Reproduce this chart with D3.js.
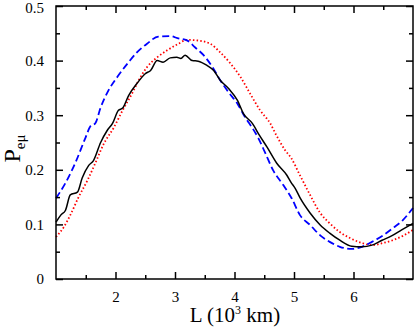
<!DOCTYPE html>
<html>
<head>
<meta charset="utf-8">
<script src="https://cdn.jsdelivr.net/npm/d3@7"></script>
<style>
  body { margin: 0; background: #fff; }
  text { font-family: "Liberation Serif", "DejaVu Serif", serif; fill: #000; }
</style>
</head>
<body>
<div id="chart"></div>
<script>
// curves (L in 10^3 km, P_e-mu)
var blueL = [1.0,1.16,1.33,1.5,1.58,1.66,1.75,1.88,2.03,2.22,2.36,2.53,2.72,2.92,3.04,3.2,3.34,3.48,3.63,3.76,3.9,4.05,4.18,4.31,4.4,4.52,4.65,4.82,4.96,5.1,5.27,5.44,5.6,5.77,5.97,6.14,6.31,6.5,6.66,6.83,7.0];
var blueP = [0.148,0.176,0.214,0.26,0.28,0.285,0.314,0.345,0.37,0.397,0.415,0.431,0.444,0.445,0.441,0.437,0.424,0.41,0.388,0.364,0.342,0.321,0.296,0.275,0.258,0.23,0.199,0.172,0.148,0.117,0.099,0.08,0.068,0.059,0.055,0.059,0.068,0.08,0.093,0.108,0.13];

var redL = [1.0,1.13,1.24,1.38,1.53,1.66,1.8,1.97,2.12,2.28,2.39,2.53,2.7,2.87,3.06,3.2,3.37,3.59,3.76,3.93,4.1,4.26,4.43,4.6,4.7,4.85,4.95,5.1,5.27,5.44,5.6,5.77,5.94,6.14,6.31,6.5,6.66,6.83,7.0];
var redP = [0.077,0.095,0.117,0.15,0.181,0.212,0.247,0.277,0.309,0.34,0.364,0.388,0.406,0.419,0.431,0.438,0.437,0.431,0.415,0.395,0.37,0.34,0.309,0.285,0.264,0.236,0.222,0.19,0.154,0.121,0.102,0.086,0.075,0.066,0.062,0.066,0.071,0.079,0.09];

var blackL = [1.0,1.08,1.16,1.24,1.36,1.44,1.55,1.63,1.75,1.86,1.95,2.05,2.12,2.22,2.36,2.5,2.59,2.7,2.8,2.92,3.03,3.1,3.17,3.29,3.39,3.54,3.65,3.76,3.9,4.05,4.15,4.3,4.42,4.55,4.71,4.88,4.95,5.02,5.1,5.27,5.44,5.6,5.77,5.97,6.14,6.31,6.48,6.64,6.81,7.0];
var blackP = [0.104,0.117,0.126,0.154,0.159,0.185,0.208,0.217,0.25,0.272,0.285,0.309,0.313,0.336,0.358,0.376,0.382,0.4,0.397,0.405,0.406,0.404,0.41,0.4,0.399,0.391,0.382,0.364,0.349,0.327,0.303,0.285,0.263,0.241,0.212,0.19,0.177,0.166,0.149,0.121,0.099,0.084,0.071,0.06,0.059,0.062,0.071,0.079,0.09,0.102];

var xTicks = [2, 3, 4, 5, 6];
var xMinor = [1.5, 2.5, 3.5, 4.5, 5.5, 6.5];
var yTicks = [0, 0.1, 0.2, 0.3, 0.4, 0.5];
var yMinor = [0.05, 0.15, 0.25, 0.35, 0.45];

var W = 415, H = 327;
var margin = {top: 6, right: 2, bottom: 48, left: 56};
var width = W - margin.left - margin.right,
    height = H - margin.top - margin.bottom;

var svg = d3.select("#chart").append("svg")
    .attr("width", W)
    .attr("height", H);

var g = svg.append("g")
    .attr("transform", "translate(" + margin.left + "," + margin.top + ")");

var x = d3.scaleLinear().domain([1, 7]).range([0, width]);
var y = d3.scaleLinear().domain([0, 0.5]).range([height, 0]);

// curves
var line = d3.line()
    .x(function(d) { return x(d[0]); })
    .y(function(d) { return y(d[1]); })
    .curve(d3.curveMonotoneX);

function pairs(a, b) { return a.map(function(v, i) { return [v, b[i]]; }); }

g.append("path")
    .datum(pairs(redL, redP))
    .attr("fill", "none")
    .attr("stroke", "#ff0000")
    .attr("stroke-width", 1.8)
    .attr("stroke-dasharray", "1.5,2.2")
    .attr("d", line);

g.append("path")
    .datum(pairs(blueL, blueP))
    .attr("fill", "none")
    .attr("stroke", "#0000ff")
    .attr("stroke-width", 1.8)
    .attr("stroke-dasharray", "7,3.5")
    .attr("d", line);

g.append("path")
    .datum(pairs(blackL, blackP))
    .attr("fill", "none")
    .attr("stroke", "#000")
    .attr("stroke-width", 1.5)
    .attr("d", line);

// axes: ticks point inward on all four sides
var fmtY = function(d) { return d === 0 ? "0" : d3.format(".1f")(d); };

g.append("g").attr("transform", "translate(0," + height + ")")
  .call(d3.axisBottom(x).tickValues(xTicks).tickSizeInner(-7).tickSizeOuter(0).tickPadding(12).tickFormat(d3.format("d")));
g.append("g")
  .call(d3.axisTop(x).tickValues(xTicks).tickSizeInner(-7).tickSizeOuter(0).tickFormat(""));
var yAxis = g.append("g")
  .call(d3.axisLeft(y).tickValues(yTicks).tickSizeInner(-7).tickSizeOuter(0).tickPadding(12).tickFormat(fmtY));
g.append("g").attr("transform", "translate(" + width + ",0)")
  .call(d3.axisRight(y).tickValues(yTicks).tickSizeInner(-7).tickSizeOuter(0).tickFormat(""));

// minor ticks
g.append("g").attr("transform", "translate(0," + height + ")")
  .call(d3.axisBottom(x).tickValues(xMinor).tickSize(-4).tickFormat(""));
g.append("g")
  .call(d3.axisTop(x).tickValues(xMinor).tickSize(-4).tickFormat(""));
g.append("g")
  .call(d3.axisLeft(y).tickValues(yMinor).tickSize(-4).tickFormat(""));
g.append("g").attr("transform", "translate(" + width + ",0)")
  .call(d3.axisRight(y).tickValues(yMinor).tickSize(-4).tickFormat(""));

g.selectAll(".domain").remove();
g.selectAll(".tick line").attr("stroke", "#000").attr("stroke-width", 1.5);
g.selectAll(".tick text")
  .style("font-family", "'Liberation Serif', serif")
  .style("font-size", "15px")
  .attr("fill", "#000");

// top label sits against the window edge; nudge it down a touch
yAxis.selectAll(".tick text").filter(function(d) { return d === 0.5; })
  .attr("dy", "0.45em");

// frame
g.append("rect")
    .attr("width", width)
    .attr("height", height)
    .attr("fill", "none")
    .attr("stroke", "#000")
    .attr("stroke-width", 1.5);

// axis titles
var xl = svg.append("text")
    .attr("x", 235)
    .attr("y", 322)
    .attr("text-anchor", "middle")
    .style("font-size", "21px");
xl.append("tspan").text("L (10");
xl.append("tspan").attr("dy", -8).style("font-size", "12px").text("3");
xl.append("tspan").attr("dy", 8).text(" km)");

var yl = svg.append("text")
    .attr("transform", "translate(20," + (margin.top + height / 2 + 6) + ") rotate(-90)")
    .attr("text-anchor", "middle")
    .style("font-size", "24px");
yl.append("tspan").text("P");
yl.append("tspan").attr("dy", 5).style("font-size", "15px").text("eμ");
</script>
</body>
</html>
